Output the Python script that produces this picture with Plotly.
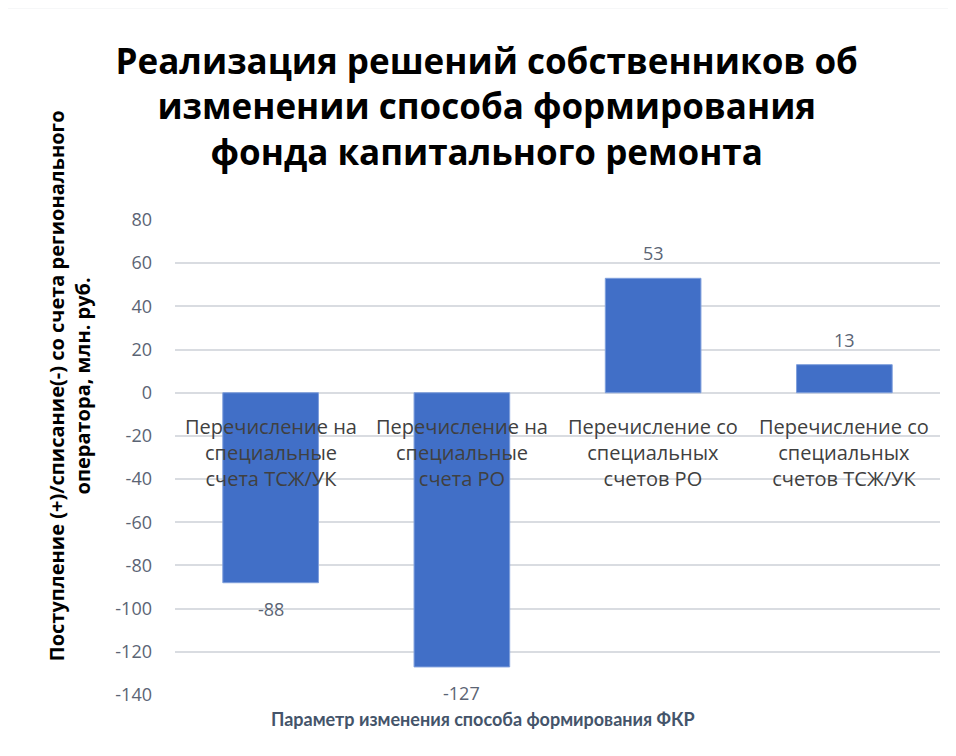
import plotly.graph_objects as go

categories = [
    "Перечисление на<br>специальные<br>счета ТСЖ/УК",
    "Перечисление на<br>специальные<br>счета РО",
    "Перечисление со<br>специальных<br>счетов РО",
    "Перечисление со<br>специальных<br>счетов ТСЖ/УК",
]
values = [-88, -127, 53, 13]
tick_values = [80, 60, 40, 20, 0, -20, -40, -60, -80, -100, -120, -140]
tick_labels = ["80", "60", "40", "20", "0", "-20", "-40", "-60", "-80",
               "-100", "-120", "-140"]

title_text = ("Реализация решений собственников об<br>"
              "изменении способа формирования<br>"
              "фонда капитального ремонта")
y_title = ("Поступление (+)/списание(-) со счета регионального<br>"
           "оператора, млн. руб.")
x_title = "Параметр изменения способа формирования ФКР"

FONT = "Open Sans"
LABEL_GRAY = "#5b6474"

fig = go.Figure()
fig.add_trace(go.Bar(
    x=categories,
    y=values,
    width=0.5,
    marker=dict(color="#416fc7", line=dict(color="#7f9fdc", width=1)),
    hoverinfo="skip",
))

annotations = []
# category labels sitting just under the zero line
for c in categories:
    annotations.append(dict(
        x=c, y=0, xref="x", yref="y", text=c, showarrow=False,
        yanchor="top", yshift=-18,
        font=dict(family=FONT, size=20, color="#404040"),
        align="center",
    ))
# data labels
for c, v in zip(categories, values):
    annotations.append(dict(
        x=c, y=v, xref="x", yref="y", text=str(v), showarrow=False,
        yanchor="middle", yshift=25 if v >= 0 else -26,
        font=dict(family=FONT, size=18, color=LABEL_GRAY),
    ))
# y axis title (two rotated lines)
annotations.append(dict(
    x=-0.138, y=0.651, xref="paper", yref="paper", text="<b>" + y_title + "</b>",
    showarrow=False, textangle=-90, xanchor="center", yanchor="middle",
    font=dict(family="Open Sans", size=20, color="#000000"), align="center",
))
# x axis title
annotations.append(dict(
    x=0.402, y=-0.05, xref="paper", yref="paper", text="<b>" + x_title + "</b>",
    showarrow=False, xanchor="center", yanchor="middle",
    font=dict(family="Lato", size=18, color="#44546a"),
))

# the page body adds an 8px offset, so the figure is 8px smaller
fig.update_layout(
    width=948, height=748,
    margin=dict(l=167, r=16, t=212, b=61),
    paper_bgcolor="white", plot_bgcolor="white",
    showlegend=False,
    title=dict(
        text="<b>" + title_text + "</b>",
        x=0.505, xanchor="center", y=0.912, yanchor="middle",
        font=dict(family=FONT, size=35, color="#000000"),
    ),
    xaxis=dict(showticklabels=False, showgrid=False, zeroline=False,
               showline=False, ticks=""),
    yaxis=dict(range=[-140, 80], tickvals=tick_values, ticktext=tick_labels,
               showgrid=True, gridcolor="#d9dce1", gridwidth=1.5,
               zeroline=True, zerolinecolor="#d9dce1", zerolinewidth=1.5,
               showline=False, ticks="", ticklabelstandoff=22,
               tickfont=dict(family=FONT, size=18, color=LABEL_GRAY)),
    annotations=annotations,
    shapes=[dict(type="rect", xref="paper", yref="paper",
                 x0=-0.2196, x1=1.2, y0=-0.3, y1=1.448,
                 line=dict(color="#d9dde3", width=2), fillcolor="rgba(0,0,0,0)",
                 layer="below")],
)

fig.write_html("out.html")
